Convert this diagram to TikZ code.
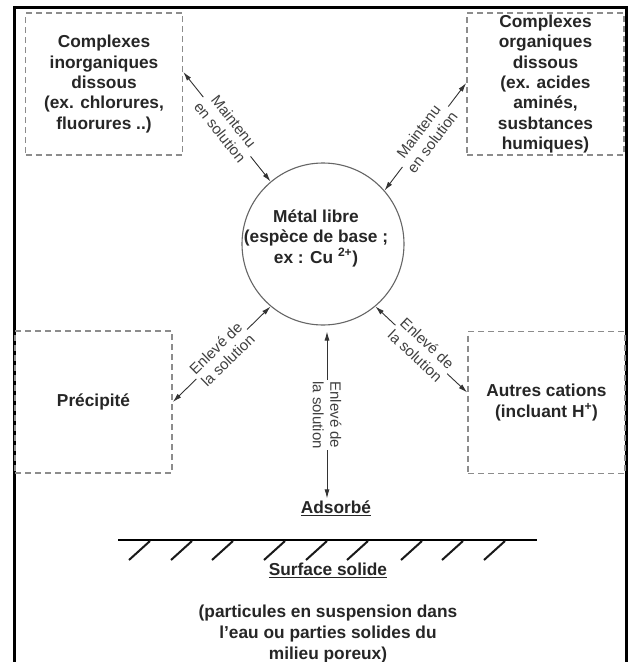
\documentclass[tikz,border=0pt]{standalone}
\usepackage{fontspec}
\setmainfont{Liberation Sans}
\usetikzlibrary{arrows.meta,calc}
\tikzset{
  dbox/.style={draw=black!45, dash pattern=on 6pt off 4pt, line width=1.6pt,
    minimum width=157pt, minimum height=142pt, inner sep=0pt, align=center,
    font=\bfseries\fontsize{17.3}{20.3}\selectfont, text=black!85},
  txt/.style={align=center, inner sep=0pt, font=\bfseries\fontsize{17.3}{21}\selectfont, text=black!85},
  lbl/.style={font=\fontsize{15}{17.5}\selectfont, fill=white, inner sep=1.5pt, align=center, text=black!75},
  arr/.style={{Latex[length=9pt,width=5pt]}-{Latex[length=9pt,width=5pt]}, line width=0.9pt, draw=black!80},
  hatch/.style={line width=2pt, draw=black!90},
}
\begin{document}
\begin{tikzpicture}[x=1pt,y=-1pt]
\useasboundingbox[fill=white] (0,0) rectangle (629,662);
% frame
\draw[line width=3pt] (14,670) -- (14,7) -- (626.5,7) -- (626.5,670);
% boxes
\node[dbox] (tl) at (104,84) {Complexes\\inorganiques\\dissous\\(ex. chlorures,\\fluorures ..)};
\node[dbox] (tr) at (545.5,84) {Complexes\\organiques\\dissous\\(ex. acides\\aminés,\\susbtances\\humiques)};
\node[dbox] (pr) at (93.5,402) {Précipité};
\node[dbox] (ac) at (546.5,402.5) {Autres cations\\(incluant H\textsuperscript{+})};
% circle
\node[circle, draw=black!60, line width=1.1pt, minimum size=162pt, inner sep=0pt] (c) at (323,244) {};
\node[txt, font=\bfseries\fontsize{17.3}{20.5}\selectfont] (ct) at (316,238) {Métal libre\\(espèce de base ;\\ex : Cu \textsuperscript{2+})};
% bottom texts
\node[txt] (ads) at (336,508) {\underline{Adsorbé}};
\node[txt] (surf) at (328,570) {\underline{Surface solide}};
\node[txt] (part) at (328,634) {(particules en suspension dans\\l'eau ou parties solides du\\milieu poreux)};
% ground
\draw[line width=2.5pt] (118,540) -- (537,540);
\foreach \x in {150,192,233,285,327,368,422,463,505}
  \draw[hatch] (\x,541) -- (\x-21,560);
% arrows
\draw[arr] ([yshift=12pt]tl.east) -- node[lbl,sloped]{Maintenu\\en solution} (c.130);
\draw[arr] (c.41) -- node[lbl,sloped]{Maintenu\\en solution} ([yshift=1pt]tr.west);
\draw[arr] (pr.east) -- node[lbl,sloped]{Enlevé de\\la solution} (c.230);
\draw[arr] (c.310) -- node[lbl,sloped]{Enlevé de\\la solution} ([yshift=10pt]ac.west);
\draw[arr] ([xshift=4pt,yshift=-6pt]c.south) -- node[lbl,rotate=-90]{Enlevé de\\la solution} ([xshift=-9pt,yshift=2pt]ads.north);
\end{tikzpicture}
\end{document}
